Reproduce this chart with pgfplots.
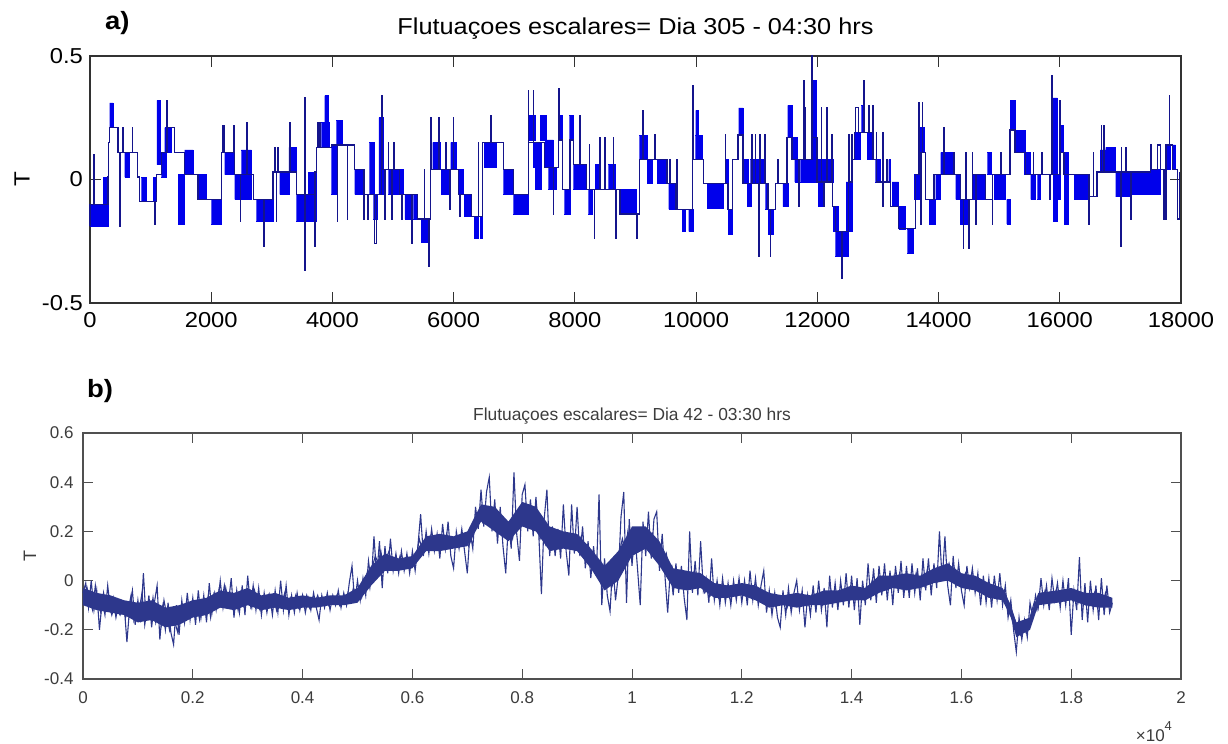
\documentclass[border=0pt]{standalone}
\usepackage{pgfplots}
\pgfplotsset{compat=1.18}
\usepackage{fontspec}
\setmainfont{Liberation Sans}
\newfontfamily\fa[FakeStretch=1.1]{Liberation Sans}
\definecolor{mblue}{RGB}{0,0,235}
\definecolor{mline}{RGB}{20,20,140}
\definecolor{bline}{RGB}{45,55,140}
\definecolor{framea}{RGB}{50,50,50}
\definecolor{frameb}{RGB}{80,80,80}
\definecolor{textb}{RGB}{60,60,60}
\begin{document}
\begin{tikzpicture}
\path[use as bounding box] (0pt,0pt) rectangle (614pt,-372pt);
% ---------------- panel a ----------------
\begin{axis}[
  at={(45pt,-151.5pt)}, anchor=south west, scale only axis,
  width=545.5pt, height=123.5pt,
  xmin=0, xmax=18000, ymin=-0.5, ymax=0.5,
  scaled ticks=false,
  xtick={0,2000,...,18000},
  xticklabels={0,2000,4000,6000,8000,10000,12000,14000,16000,18000},
  ytick={-0.5,0,0.5}, yticklabels={-0.5,0,0.5},
  tick align=inside, major tick length=5.3pt,
  axis line style={framea, line width=0.75pt},
  tick style={framea, line width=0.6pt},
  ticklabel style={font=\fa\fontsize{10.8}{13}\selectfont},
  xticklabel style={yshift=-1.4pt},
  title={Flutuaçoes escalares= Dia 305 - 04:30 hrs},
  title style={font=\fa\fontsize{11.5}{14}\selectfont, at={(0.5,1)}, anchor=base, yshift=4.8pt},
  ylabel={T},
  ylabel style={font=\fa\fontsize{11}{13}\selectfont, at={(axis description cs:-0.0623,0.5)}, anchor=center},
  clip=false,
]
\addplot[fill=mblue, draw=mblue, line width=0.3pt, unbounded coords=jump] coordinates {
(0,-0.19)(297,-0.19)(297,-0.1)(0,-0.1)(0,nan)
(215,-0.19)(297,-0.19)(297,0.01)(215,0.01)(215,nan)
(325,0.21)(380,0.21)(380,0.31)(325,0.31)(325,nan)
(572,0.01)(655,0.01)(655,0.11)(572,0.11)(572,nan)
(847,-0.09)(930,-0.09)(930,0.01)(847,0.01)(847,nan)
(1040,-0.09)(1095,-0.09)(1095,0.01)(1040,0.01)(1040,nan)
(1105,0.06)(1165,0.06)(1165,0.32)(1105,0.32)(1105,nan)
(1177,0.01)(1260,0.01)(1260,0.11)(1177,0.11)(1177,nan)
(1232,0.11)(1342,0.11)(1342,0.21)(1232,0.21)(1232,nan)
(1452,-0.18)(1562,-0.18)(1562,0.02)(1452,0.02)(1452,nan)
(1562,0.02)(1700,0.02)(1700,0.12)(1562,0.12)(1562,nan)
(1782,-0.08)(1920,-0.08)(1920,0.02)(1782,0.02)(1782,nan)
(2002,-0.18)(2167,-0.18)(2167,-0.08)(2002,-0.08)(2002,nan)
(2222,0.02)(2387,0.02)(2387,0.11)(2222,0.11)(2222,nan)
(2387,-0.08)(2497,-0.08)(2497,0.02)(2387,0.02)(2387,nan)
(2497,-0.08)(2662,-0.08)(2662,0.12)(2497,0.12)(2497,nan)
(2745,-0.17)(2855,-0.17)(2855,-0.08)(2745,-0.08)(2745,nan)
(2877,-0.17)(3020,-0.17)(3020,-0.08)(2877,-0.08)(2877,nan)
(3130,-0.06)(3283,-0.06)(3283,0.03)(3130,0.03)(3130,nan)
(3283,0.03)(3405,0.03)(3405,0.13)(3283,0.13)(3283,nan)
(3405,-0.17)(3597,-0.17)(3597,-0.06)(3405,-0.06)(3405,nan)
(3597,-0.17)(3735,-0.17)(3735,0.03)(3597,0.03)(3597,nan)
(3817,0.13)(3955,0.13)(3955,0.23)(3817,0.23)(3817,nan)
(3872,0.23)(3938,0.23)(3938,0.34)(3872,0.34)(3872,nan)
(3982,-0.06)(4065,-0.06)(4065,0.14)(3982,0.14)(3982,nan)
(4065,0.14)(4158,0.14)(4158,0.24)(4065,0.24)(4065,nan)
(4367,-0.06)(4510,-0.06)(4510,0.04)(4367,0.04)(4367,nan)
(4610,-0.06)(4687,-0.06)(4687,0.15)(4610,0.15)(4610,nan)
(4675,-0.16)(4741,-0.16)(4741,-0.06)(4675,-0.06)(4675,nan)
(4768,-0.06)(4840,-0.06)(4840,0.25)(4768,0.25)(4768,nan)
(4923,-0.06)(4960,-0.06)(4960,0.04)(4923,0.04)(4923,nan)
(4978,-0.06)(5060,-0.06)(5060,0.04)(4978,0.04)(4978,nan)
(5049,-0.06)(5170,-0.06)(5170,0.04)(5049,0.04)(5049,nan)
(5197,-0.16)(5280,-0.16)(5280,-0.06)(5197,-0.06)(5197,nan)
(5335,-0.16)(5400,-0.16)(5400,-0.06)(5335,-0.06)(5335,nan)
(5462,-0.255)(5582,-0.255)(5582,-0.16)(5462,-0.16)(5462,nan)
(5654,0.04)(5775,0.04)(5775,0.15)(5654,0.15)(5654,nan)
(5792,-0.06)(5930,-0.06)(5930,0.04)(5792,0.04)(5792,nan)
(5951,0.04)(6050,0.04)(6050,0.15)(5951,0.15)(5951,nan)
(6078,-0.06)(6160,-0.06)(6160,0.04)(6078,0.04)(6078,nan)
(6171,-0.15)(6297,-0.15)(6297,-0.06)(6171,-0.06)(6171,nan)
(6336,-0.24)(6413,-0.24)(6413,-0.15)(6336,-0.15)(6336,nan)
(6435,-0.24)(6479,-0.24)(6479,-0.15)(6435,-0.15)(6435,nan)
(6501,0.05)(6699,0.05)(6699,0.15)(6501,0.15)(6501,nan)
(6820,-0.06)(6985,-0.06)(6985,0.04)(6820,0.04)(6820,nan)
(6985,-0.14)(7232,-0.14)(7232,-0.06)(6985,-0.06)(6985,nan)
(7243,0.16)(7353,0.16)(7353,0.26)(7243,0.26)(7243,nan)
(7310,0.05)(7425,0.05)(7425,0.15)(7310,0.15)(7310,nan)
(7342,-0.04)(7452,-0.04)(7452,0.15)(7342,0.15)(7342,nan)
(7425,0.16)(7535,0.16)(7535,0.26)(7425,0.26)(7425,nan)
(7507,0.05)(7645,0.05)(7645,0.16)(7507,0.16)(7507,nan)
(7562,-0.04)(7700,-0.04)(7700,0.05)(7562,0.05)(7562,nan)
(7727,0.16)(7793,0.16)(7793,0.26)(7727,0.26)(7727,nan)
(7826,-0.14)(7920,-0.14)(7920,-0.04)(7826,-0.04)(7826,nan)
(7909,0.16)(7975,0.16)(7975,0.26)(7909,0.26)(7909,nan)
(7975,-0.04)(8195,-0.04)(8195,0.06)(7975,0.06)(7975,nan)
(8222,-0.14)(8288,-0.14)(8288,-0.04)(8222,-0.04)(8222,nan)
(8333,-0.04)(8415,-0.04)(8415,0.06)(8333,0.06)(8333,nan)
(8552,-0.04)(8662,-0.04)(8662,0.06)(8552,0.06)(8552,nan)
(8745,-0.14)(9020,-0.14)(9020,-0.04)(8745,-0.04)(8745,nan)
(9064,0.08)(9190,0.08)(9190,0.18)(9064,0.18)(9064,nan)
(9190,-0.015)(9273,-0.015)(9273,0.08)(9190,0.08)(9190,nan)
(9355,-0.015)(9520,-0.015)(9520,0.08)(9355,0.08)(9355,nan)
(9548,-0.12)(9658,-0.12)(9658,-0.015)(9548,-0.015)(9548,nan)
(9768,-0.21)(9823,-0.21)(9823,-0.12)(9768,-0.12)(9768,nan)
(9878,-0.21)(9960,-0.21)(9960,-0.12)(9878,-0.12)(9878,nan)
(9988,0.08)(10098,0.08)(10098,0.18)(9988,0.18)(9988,nan)
(9993,0.18)(10043,0.18)(10043,0.28)(9993,0.28)(9993,nan)
(10180,-0.117)(10455,-0.117)(10455,-0.015)(10180,-0.015)(10180,nan)
(10494,-0.015)(10538,-0.015)(10538,0.08)(10494,0.08)(10494,nan)
(10527,-0.22)(10604,-0.22)(10604,-0.12)(10527,-0.12)(10527,nan)
(10703,0.18)(10775,0.18)(10775,0.29)(10703,0.29)(10703,nan)
(10775,-0.015)(10868,-0.015)(10868,0.08)(10775,0.08)(10775,nan)
(10840,-0.11)(10912,-0.11)(10912,-0.015)(10840,-0.015)(10840,nan)
(10896,-0.015)(11060,-0.015)(11060,0.08)(10896,0.08)(10896,nan)
(11060,-0.015)(11143,-0.015)(11143,0.08)(11060,0.08)(11060,nan)
(11143,-0.12)(11198,-0.12)(11198,-0.015)(11143,-0.015)(11143,nan)
(11187,-0.22)(11280,-0.22)(11280,-0.12)(11187,-0.12)(11187,nan)
(11430,-0.11)(11517,-0.11)(11517,-0.015)(11430,-0.015)(11430,nan)
(11511,0.17)(11583,0.17)(11583,0.3)(11511,0.3)(11511,nan)
(11583,0.08)(11665,0.08)(11665,0.17)(11583,0.17)(11583,nan)
(11627,-0.01)(11710,-0.01)(11710,0.08)(11627,0.08)(11627,nan)
(11720,-0.01)(11913,-0.01)(11913,0.08)(11720,0.08)(11720,nan)
(11913,0.17)(11980,0.17)(11980,0.4)(11913,0.4)(11913,nan)
(11913,-0.01)(11995,-0.01)(11995,0.17)(11913,0.17)(11913,nan)
(12012,-0.11)(12105,-0.11)(12105,0.08)(12012,0.08)(12012,nan)
(12105,-0.01)(12270,-0.01)(12270,0.08)(12105,0.08)(12105,nan)
(12260,-0.21)(12353,-0.21)(12353,-0.11)(12260,-0.11)(12260,nan)
(12298,-0.31)(12518,-0.31)(12518,-0.21)(12298,-0.21)(12298,nan)
(12474,-0.21)(12573,-0.21)(12573,-0.01)(12474,-0.01)(12474,nan)
(12617,0.08)(12710,0.08)(12710,0.19)(12617,0.19)(12617,nan)
(12727,0.19)(12782,0.19)(12782,0.3)(12727,0.3)(12727,nan)
(12820,0.08)(12930,0.08)(12930,0.19)(12820,0.19)(12820,nan)
(12958,-0.01)(13040,-0.01)(13040,0.08)(12958,0.08)(12958,nan)
(13178,-0.01)(13206,-0.01)(13206,0.08)(13178,0.08)(13178,nan)
(13233,-0.11)(13343,-0.11)(13343,-0.01)(13233,-0.01)(13233,nan)
(13343,-0.2)(13453,-0.2)(13453,-0.11)(13343,-0.11)(13343,nan)
(13486,-0.3)(13585,-0.3)(13585,-0.2)(13486,-0.2)(13486,nan)
(13596,-0.08)(13678,-0.08)(13678,0.02)(13596,0.02)(13596,nan)
(13662,0.11)(13761,0.11)(13761,0.21)(13662,0.21)(13662,nan)
(13843,-0.18)(13953,-0.18)(13953,-0.08)(13843,-0.08)(13843,nan)
(13953,-0.08)(14036,-0.08)(14036,0.02)(13953,0.02)(13953,nan)
(14036,0.02)(14146,0.02)(14146,0.11)(14036,0.11)(14036,nan)
(14146,0.02)(14256,0.02)(14256,0.11)(14146,0.11)(14146,nan)
(14283,-0.08)(14366,-0.08)(14366,0.02)(14283,0.02)(14283,nan)
(14355,-0.18)(14476,-0.18)(14476,-0.08)(14355,-0.08)(14355,nan)
(14558,-0.08)(14778,-0.08)(14778,0.02)(14558,0.02)(14558,nan)
(14806,0.02)(14872,0.02)(14872,0.11)(14806,0.11)(14806,nan)
(14916,-0.08)(15108,-0.08)(15108,0.02)(14916,0.02)(14916,nan)
(15125,-0.18)(15180,-0.18)(15180,-0.08)(15125,-0.08)(15125,nan)
(15180,0.2)(15262,0.2)(15262,0.32)(15180,0.32)(15180,nan)
(15273,0.11)(15438,0.11)(15438,0.2)(15273,0.2)(15273,nan)
(15411,0.02)(15521,0.02)(15521,0.11)(15411,0.11)(15411,nan)
(15521,-0.08)(15603,-0.08)(15603,0.02)(15521,0.02)(15521,nan)
(15631,-0.08)(15686,-0.08)(15686,0.02)(15631,0.02)(15631,nan)
(15890,-0.17)(15961,-0.17)(15961,0.33)(15890,0.33)(15890,nan)
(15961,-0.08)(16016,-0.08)(16016,0.02)(15961,0.02)(15961,nan)
(16005,0.11)(16060,0.11)(16060,0.22)(16005,0.22)(16005,nan)
(16071,-0.18)(16137,-0.18)(16137,0.11)(16071,0.11)(16071,nan)
(16236,-0.08)(16456,-0.08)(16456,0.02)(16236,0.02)(16236,nan)
(16665,0.03)(16758,0.03)(16758,0.12)(16665,0.12)(16665,nan)
(16758,0.03)(16923,0.03)(16923,0.13)(16758,0.13)(16758,nan)
(16923,-0.07)(17033,-0.07)(17033,0.03)(16923,0.03)(16923,nan)
(17033,-0.07)(17171,-0.07)(17171,0.03)(17033,0.03)(17033,nan)
(17177,-0.06)(17501,-0.06)(17501,0.03)(17177,0.03)(17177,nan)
(17501,-0.06)(17666,-0.06)(17666,0.04)(17501,0.04)(17501,nan)
(17748,0.04)(17831,0.04)(17831,0.14)(17748,0.14)(17748,nan)
(17858,0.04)(17913,0.04)(17913,0.14)(17858,0.14)
};
\addplot[mline, line width=0.6pt] coordinates {
(0,-0.19)(0,-0.1)(66,-0.1)(66,0.1)(72,0.1)(72,-0.1)(297,-0.1)(297,0.01)(310,0.01)(310,0.15)(325,0.15)(325,0.21)
(462,0.21)(462,0.11)(490,0.11)(490,-0.19)(496,-0.19)(496,0.11)(545,0.11)(545,0.21)(551,0.21)(551,0.11)
(700,0.11)(700,0.21)(706,0.21)(706,0.11)(790,0.11)(790,0.01)(820,0.01)(820,-0.09)(1067,-0.09)(1067,-0.18)
(1072,-0.18)(1072,-0.09)(1095,-0.09)(1095,0.02)(1177,0.02)(1177,0.11)(1270,0.11)(1270,0.32)(1275,0.32)(1275,0.21)
(1397,0.21)(1397,0.11)(1562,0.11)(1562,0.02)(1782,0.02)(1782,-0.08)(2167,-0.08)(2167,0.11)(2195,0.11)(2195,0.22)
(2222,0.22)(2222,0.11)(2376,0.11)(2376,0.22)(2382,0.22)(2382,0.02)(2480,0.02)(2480,-0.17)(2486,-0.17)(2486,0.02)
(2585,0.02)(2585,0.23)(2591,0.23)(2591,0.02)(2700,0.02)(2700,-0.08)(2871,-0.08)(2871,-0.27)(2877,-0.27)(2877,-0.08)
(3020,-0.08)(3020,0.03)(3047,0.03)(3047,0.13)(3053,0.13)(3053,0.03)(3074,0.03)(3074,-0.17)(3080,-0.17)(3080,0.03)
(3102,0.03)(3102,0.13)(3108,0.13)(3108,0.03)(3295,0.03)(3295,0.23)(3301,0.23)(3301,0.03)(3405,0.03)(3405,-0.06)
(3542,-0.06)(3542,-0.37)(3548,-0.37)(3548,0.33)(3554,0.33)(3554,-0.06)(3707,-0.06)(3707,-0.27)(3713,-0.27)(3713,0.03)
(3735,0.03)(3735,0.13)(3762,0.13)(3762,0.23)(3768,0.23)(3768,0.13)(3790,0.13)(3790,0.23)(3796,0.23)(3796,0.13)
(3982,0.13)(3982,0.14)(4081,0.14)(4081,-0.17)(4087,-0.17)(4087,0.14)(4246,0.14)(4246,-0.16)(4252,-0.16)(4252,0.14)
(4367,0.14)(4367,0.04)(4521,0.04)(4521,-0.16)(4527,-0.16)(4527,-0.06)(4580,-0.06)(4580,-0.16)(4586,-0.16)(4586,-0.06)
(4700,-0.06)(4700,-0.26)(4725,-0.26)(4725,-0.06)(4812,-0.06)(4812,0.34)(4818,0.34)(4818,0.04)(4868,0.04)(4868,-0.16)
(4874,-0.16)(4874,0.04)(4923,0.04)(4923,0.15)(4929,0.15)(4929,0.04)(4978,0.04)(4978,-0.16)(4984,-0.16)(4984,0.04)
(5016,0.04)(5016,0.15)(5022,0.15)(5022,0.04)(5100,0.04)(5100,-0.06)(5142,-0.06)(5142,-0.16)(5148,-0.16)(5148,-0.06)
(5307,-0.06)(5307,-0.26)(5313,-0.26)(5313,-0.06)(5400,-0.06)(5400,-0.16)(5516,-0.16)(5516,0.04)(5522,0.04)(5522,-0.16)
(5593,-0.16)(5593,-0.35)(5599,-0.35)(5599,-0.16)(5621,-0.16)(5621,0.25)(5627,0.25)(5627,0.04)(5758,0.04)(5758,0.25)
(5764,0.25)(5764,0.04)(5875,0.04)(5875,0.15)(5881,0.15)(5881,0.04)(5940,0.04)(5940,-0.12)(5946,-0.12)(5946,0.04)
(5995,0.04)(5995,0.25)(6001,0.25)(6001,0.04)(6078,0.04)(6078,-0.06)(6105,-0.06)(6105,-0.15)(6111,-0.15)(6111,-0.06)
(6297,-0.06)(6297,-0.15)(6408,-0.15)(6408,0.15)(6414,0.15)(6414,-0.15)(6480,-0.15)(6480,0.15)(6617,0.15)(6617,0.26)
(6623,0.26)(6623,0.15)(6820,0.15)(6820,0.04)(6985,0.04)(6985,-0.06)(7232,-0.06)(7232,0.36)(7238,0.36)(7238,0.15)
(7315,0.15)(7315,0.36)(7321,0.36)(7321,0.15)(7500,0.15)(7500,0.05)(7645,0.05)(7645,-0.14)(7651,-0.14)(7651,0.05)
(7727,0.05)(7727,0.16)(7738,0.16)(7738,0.37)(7744,0.37)(7744,0.16)(7800,0.16)(7800,-0.04)(7920,-0.04)(7920,0.16)
(7975,0.16)(7975,0.06)(8085,0.06)(8085,0.26)(8091,0.26)(8091,0.06)(8195,0.06)(8195,-0.04)(8239,-0.04)(8239,0.14)
(8245,0.14)(8245,-0.04)(8321,-0.04)(8321,-0.24)(8327,-0.24)(8327,-0.04)(8415,-0.04)(8415,0.17)(8421,0.17)(8421,-0.04)
(8497,-0.04)(8497,0.17)(8503,0.17)(8503,-0.04)(8635,-0.04)(8635,0.17)(8641,0.17)(8641,-0.04)(8679,-0.04)(8679,-0.24)
(8685,-0.24)(8685,-0.04)(8745,-0.04)(8745,-0.14)(9020,-0.14)(9020,-0.24)(9026,-0.24)(9026,-0.14)(9064,-0.14)(9064,0.08)
(9119,0.08)(9119,0.28)(9125,0.28)(9125,0.08)(9317,0.08)(9317,0.18)(9323,0.18)(9323,0.08)(9520,0.08)(9520,-0.015)
(9565,-0.015)(9565,0.08)(9571,0.08)(9571,-0.015)(9658,-0.015)(9658,-0.12)(9685,-0.12)(9685,0.08)(9691,0.08)(9691,-0.12)
(9944,-0.12)(9944,0.38)(9950,0.38)(9950,0.08)(10125,0.08)(10125,-0.015)(10483,-0.015)(10483,0.18)(10489,0.18)(10489,-0.015)
(10527,-0.015)(10527,-0.12)(10604,-0.12)(10604,0.08)(10692,0.08)(10692,0.18)(10775,0.18)(10775,-0.015)(10923,-0.015)(10923,0.18)
(10929,0.18)(10929,-0.015)(10978,-0.015)(10978,0.18)(10984,0.18)(10984,-0.015)(11033,-0.015)(11033,-0.31)(11039,-0.31)(11039,-0.015)
(11050,-0.015)(11050,0.18)(11056,0.18)(11056,-0.015)(11132,-0.015)(11132,0.18)(11138,0.18)(11138,-0.015)(11187,-0.015)(11187,-0.12)
(11225,-0.12)(11225,-0.31)(11231,-0.31)(11231,-0.12)(11308,-0.12)(11308,-0.015)(11346,-0.015)(11346,0.08)(11352,0.08)(11352,-0.015)
(11500,-0.015)(11500,0.17)(11583,0.17)(11583,0.08)(11693,0.08)(11693,-0.11)(11699,-0.11)(11699,0.08)(11776,0.08)(11776,0.4)
(11782,0.4)(11782,0.08)(11790,0.08)(11790,0.29)(11796,0.29)(11796,0.08)(11913,0.08)(11913,0.5)(11919,0.5)(11919,0.17)
(11995,0.17)(11995,-0.01)(12067,-0.01)(12067,0.29)(12073,0.29)(12073,-0.01)(12105,-0.01)(12105,-0.11)(12111,-0.11)(12111,-0.01)
(12160,-0.01)(12160,0.29)(12166,0.29)(12166,-0.01)(12243,-0.01)(12243,0.18)(12249,0.18)(12249,-0.11)(12298,-0.11)(12298,-0.21)
(12408,-0.21)(12408,-0.4)(12414,-0.4)(12414,-0.21)(12518,-0.21)(12518,0.18)(12524,0.18)(12524,-0.01)(12573,-0.01)(12573,0.18)
(12579,0.18)(12579,0.08)(12617,0.08)(12617,0.19)(12628,0.19)(12628,0.29)(12683,0.29)(12683,0.19)(12765,0.19)(12765,0.4)
(12771,0.4)(12771,0.19)(12848,0.19)(12848,0.3)(12854,0.3)(12854,0.19)(12914,0.19)(12914,0.3)(12920,0.3)(12920,0.08)
(12975,0.08)(12975,0.19)(12981,0.19)(12981,-0.01)(13079,-0.01)(13079,-0.11)(13085,-0.11)(13085,0.19)(13091,0.19)(13091,-0.01)
(13150,-0.01)(13150,0.08)(13156,0.08)(13156,-0.01)(13206,-0.01)(13206,-0.11)(13343,-0.11)(13343,-0.2)(13613,-0.2)(13613,0.02)
(13678,0.02)(13678,0.31)(13684,0.31)(13684,0.11)(13706,0.11)(13706,-0.18)(13712,-0.18)(13712,0.11)(13733,0.11)(13733,0.31)
(13739,0.31)(13739,0.11)(13788,0.11)(13788,-0.08)(13926,-0.08)(13926,0.02)(14091,0.02)(14091,0.21)(14097,0.21)(14097,0.02)
(14256,0.02)(14256,0.11)(14262,0.11)(14262,0.02)(14366,0.02)(14366,-0.08)(14410,-0.08)(14410,-0.28)(14416,-0.28)(14416,-0.08)
(14448,-0.08)(14448,0.11)(14454,0.11)(14454,-0.08)(14503,-0.08)(14503,-0.28)(14509,-0.28)(14509,-0.08)(14558,-0.08)(14558,0.11)
(14564,0.11)(14564,0.02)(14613,0.02)(14613,-0.18)(14619,-0.18)(14619,0.02)(14778,0.02)(14778,-0.08)(14888,-0.08)(14888,-0.18)
(14894,-0.18)(14894,0.02)(15026,0.02)(15026,0.11)(15032,0.11)(15032,0.02)(15180,0.02)(15180,0.2)(15262,0.2)(15262,0.11)
(15438,0.11)(15438,0.02)(15565,0.02)(15565,0.11)(15571,0.11)(15571,0.02)(15703,0.02)(15703,0.11)(15709,0.11)(15709,0.02)
(15835,0.02)(15835,-0.08)(15841,-0.08)(15841,0.02)(15868,0.02)(15868,0.42)(15874,0.42)(15874,0.02)(16005,0.02)(16005,0.32)
(16011,0.32)(16011,0.11)(16071,0.11)(16071,0.02)(16483,0.02)(16483,-0.18)(16489,-0.18)(16489,-0.07)(16550,-0.07)(16550,0.11)
(16556,0.11)(16556,-0.07)(16615,-0.07)(16615,0.03)(16687,0.03)(16687,0.22)(16693,0.22)(16693,0.03)(16731,0.03)(16731,0.22)
(16737,0.22)(16737,0.03)(17006,0.03)(17006,-0.27)(17012,-0.27)(17012,0.03)(17017,0.03)(17017,0.13)(17023,0.13)(17023,0.03)
(17090,0.03)(17090,0.13)(17096,0.13)(17096,0.03)(17171,0.03)(17171,-0.16)(17177,-0.16)(17177,0.03)(17501,0.03)(17501,0.14)
(17507,0.14)(17507,0.04)(17611,0.04)(17611,0.14)(17666,0.14)(17666,0.04)(17721,0.04)(17721,-0.16)(17727,-0.16)(17727,0.04)
(17748,0.04)(17748,-0.16)(17754,-0.16)(17754,0.14)(17804,0.14)(17804,0.34)(17810,0.34)(17810,0.14)(17858,0.14)(17858,0.04)
(17941,0.04)(17941,-0.16)(17970,-0.16)(17970,0.03)
};
\end{axis}
% ---------------- panel b ----------------
\begin{axis}[
  at={(41.5pt,-339.5pt)}, anchor=south west, scale only axis,
  width=549pt, height=123pt,
  xmin=0, xmax=20000, ymin=-0.4, ymax=0.6,
  scaled ticks=false,
  xtick={0,2000,...,20000},
  xticklabels={0,0.2,0.4,0.6,0.8,1,1.2,1.4,1.6,1.8,2},
  ytick={-0.4,-0.2,0,0.2,0.4,0.6}, yticklabels={-0.4,-0.2,0,0.2,0.4,0.6},
  tick align=inside, major tick length=5pt,
  axis line style={frameb, line width=0.6pt},
  tick style={frameb, line width=0.5pt},
  ticklabel style={font=\fontsize{8.5}{10}\selectfont, text=textb},
  xticklabel style={yshift=-2.7pt},
  yticklabel style={xshift=-1.2pt},
  title={Flutuaçoes escalares= Dia 42 - 03:30 hrs},
  title style={font=\fontsize{8.7}{10}\selectfont, text=textb, at={(0.5,1)}, anchor=base, yshift=0.1pt},
  ylabel={T},
  ylabel style={font=\fontsize{9}{10}\selectfont, text=textb, at={(axis description cs:-0.0483,0.5)}, anchor=center},
  clip=false,
]
\addplot[fill=bline, draw=none] coordinates {
(0,-0.03)(250,-0.05)(500,-0.06)(750,-0.08)(1000,-0.09)(1250,-0.08)(1500,-0.11)(1750,-0.1)(2000,-0.08)(2250,-0.07)
(2500,-0.04)(2750,-0.05)(3000,-0.03)(3250,-0.06)(3500,-0.05)(3750,-0.07)(4000,-0.06)(4250,-0.07)(4500,-0.06)(4750,-0.06)
(5000,-0.03)(5250,0.06)(5500,0.11)(5750,0.09)(6000,0.1)(6250,0.18)(6500,0.19)(6750,0.18)(7000,0.2)(7250,0.31)
(7500,0.3)(7750,0.24)(8000,0.32)(8250,0.3)(8500,0.22)(8750,0.2)(9000,0.19)(9250,0.13)(9500,0.06)(9750,0.12)
(10000,0.22)(10250,0.22)(10500,0.16)(10750,0.05)(11000,0.04)(11250,0.03)(11500,-0.01)(11750,-0.02)(12000,-0.01)(12250,-0.02)
(12500,-0.05)(12750,-0.06)(13000,-0.05)(13250,-0.06)(13500,-0.04)(13750,-0.04)(14000,-0.02)(14250,-0.03)(14500,0.02)(14750,0.02)
(15000,0.03)(15250,0.02)(15500,0.05)(15750,0.07)(16000,0.03)(16250,0.02)(16500,-0.01)(16750,-0.03)(16900,-0.1)(17000,-0.17)
(17250,-0.15)(17400,-0.05)(17750,-0.04)(18000,-0.03)(18250,-0.05)(18500,-0.05)(18750,-0.07)
(18750,-0.11)(18500,-0.11)(18250,-0.1)(18000,-0.08)(17750,-0.09)(17400,-0.1)(17250,-0.2)(17000,-0.23)(16900,-0.15)(16750,-0.08)
(16500,-0.07)(16250,-0.04)(16000,-0.03)(15750,0.0)(15500,-0.01)(15250,-0.03)(15000,-0.04)(14750,-0.03)(14500,-0.05)(14250,-0.08)
(14000,-0.08)(13750,-0.09)(13500,-0.1)(13250,-0.1)(13000,-0.11)(12750,-0.1)(12500,-0.11)(12250,-0.08)(12000,-0.06)(11750,-0.07)
(11500,-0.07)(11250,-0.03)(11000,-0.04)(10750,-0.03)(10500,0.06)(10250,0.13)(10000,0.1)(9750,0.0)(9500,-0.04)(9250,0.05)
(9000,0.12)(8750,0.13)(8500,0.12)(8250,0.2)(8000,0.22)(7750,0.16)(7500,0.2)(7250,0.24)(7000,0.14)(6750,0.13)
(6500,0.12)(6250,0.12)(6000,0.05)(5750,0.04)(5500,0.04)(5250,-0.02)(5000,-0.09)(4750,-0.1)(4500,-0.1)(4250,-0.11)
(4000,-0.11)(3750,-0.12)(3500,-0.11)(3250,-0.12)(3000,-0.1)(2750,-0.12)(2500,-0.11)(2250,-0.14)(2000,-0.15)(1750,-0.18)
(1500,-0.19)(1250,-0.16)(1000,-0.17)(750,-0.14)(500,-0.13)(250,-0.12)(0,-0.1)
};
\addplot[bline, line width=0.55pt] table[x expr=25+\coordindex*50, y index=0, header=false, row sep=\\] {
-0.1\\-0.03\\-0.08\\-0.12\\-0.02\\-0.1\\-0.13\\-0.05\\-0.12\\-0.09\\-0.14\\-0.1\\-0.12\\-0.14\\-0.1\\-0.15\\-0.12\\-0.06\\-0.16\\-0.1\\
-0.12\\-0.05\\-0.18\\-0.1\\-0.15\\-0.07\\-0.17\\-0.12\\-0.18\\-0.08\\-0.14\\-0.2\\-0.13\\-0.17\\-0.21\\-0.12\\-0.16\\-0.1\\-0.14\\-0.09\\
-0.14\\-0.1\\-0.16\\-0.09\\-0.13\\-0.07\\-0.15\\-0.06\\-0.12\\-0.04\\-0.09\\-0.02\\-0.1\\-0.05\\-0.11\\-0.06\\-0.12\\-0.05\\-0.1\\-0.04\\
-0.06\\-0.11\\-0.04\\-0.09\\-0.12\\-0.07\\-0.11\\-0.06\\-0.1\\-0.07\\-0.12\\-0.06\\-0.09\\-0.05\\-0.11\\-0.07\\-0.1\\-0.06\\-0.11\\-0.08\\
-0.1\\-0.06\\-0.11\\-0.07\\-0.09\\-0.06\\-0.1\\-0.08\\-0.07\\-0.1\\-0.07\\-0.09\\-0.06\\-0.1\\-0.07\\-0.09\\-0.05\\-0.08\\-0.03\\-0.06\\
-0.04\\-0.07\\-0.02\\0.03\\-0.03\\0.06\\0.1\\0.07\\0.12\\0.05\\0.09\\0.12\\0.06\\0.09\\0.06\\0.1\\0.07\\0.09\\0.06\\0.09\\
0.07\\0.1\\0.17\\0.13\\0.16\\0.14\\0.18\\0.14\\0.16\\0.13\\0.18\\0.15\\0.19\\0.14\\0.17\\0.15\\0.18\\0.15\\0.17\\0.16\\
0.14\\0.17\\0.2\\0.26\\0.28\\0.24\\0.3\\0.26\\0.29\\0.25\\0.2\\0.26\\0.19\\0.23\\0.18\\0.2\\0.17\\0.24\\0.27\\0.22\\
0.25\\0.3\\0.23\\0.29\\0.25\\0.28\\0.17\\0.2\\0.15\\0.22\\0.14\\0.18\\0.15\\0.19\\0.14\\0.18\\0.15\\0.19\\0.14\\0.18\\
0.15\\0.18\\0.12\\0.1\\0.13\\0.08\\0.1\\0.06\\0.08\\0.02\\-0.02\\0.04\\-0.03\\0.0\\0.05\\0.12\\0.17\\0.12\\0.2\\0.15\\
0.18\\0.13\\0.17\\0.2\\0.15\\0.2\\0.16\\0.19\\0.13\\0.1\\0.14\\0.08\\0.11\\0.04\\0.06\\0.01\\0.03\\-0.02\\0.02\\0.0\\
0.02\\-0.02\\0.03\\-0.01\\0.02\\-0.02\\-0.05\\-0.03\\-0.06\\-0.02\\-0.05\\-0.07\\-0.03\\-0.06\\-0.04\\-0.07\\-0.03\\-0.06\\-0.04\\-0.05\\
-0.06\\-0.03\\-0.05\\-0.07\\-0.03\\-0.06\\-0.04\\-0.07\\-0.09\\-0.07\\-0.1\\-0.08\\-0.11\\-0.07\\-0.1\\-0.08\\-0.11\\-0.07\\-0.09\\-0.08\\
-0.09\\-0.06\\-0.1\\-0.07\\-0.1\\-0.06\\-0.09\\-0.05\\-0.08\\-0.1\\-0.06\\-0.09\\-0.04\\-0.07\\-0.05\\-0.08\\-0.04\\-0.07\\-0.05\\-0.06\\
-0.06\\-0.03\\-0.07\\-0.04\\-0.06\\-0.02\\-0.04\\0.0\\-0.03\\0.01\\-0.02\\0.02\\-0.01\\0.01\\-0.03\\0.02\\-0.02\\0.03\\-0.01\\0.02\\
-0.01\\0.02\\-0.02\\0.03\\-0.01\\0.02\\-0.02\\0.04\\0.0\\0.03\\0.0\\0.05\\0.02\\0.06\\0.03\\0.07\\0.02\\0.05\\0.01\\0.03\\
0.0\\0.03\\-0.01\\0.02\\-0.02\\0.0\\-0.04\\-0.02\\-0.05\\-0.03\\-0.06\\-0.02\\-0.05\\-0.03\\-0.06\\-0.04\\-0.07\\-0.1\\-0.13\\-0.16\\
-0.19\\-0.22\\-0.18\\-0.21\\-0.17\\-0.13\\-0.09\\-0.12\\-0.05\\-0.08\\-0.04\\-0.07\\-0.05\\-0.08\\-0.04\\-0.07\\-0.05\\-0.08\\-0.04\\-0.06\\
-0.08\\-0.05\\-0.09\\-0.05\\-0.08\\-0.1\\-0.06\\-0.09\\-0.05\\-0.1\\-0.06\\-0.09\\-0.05\\-0.1\\-0.07\\
};
\addplot[bline, line width=0.55pt] table[x expr=\coordindex*50, y index=0, header=false, row sep=\\] {
-0.05\\-0.01\\-0.11\\0.0\\-0.12\\-0.04\\-0.2\\-0.08\\-0.14\\-0.02\\-0.12\\-0.07\\-0.15\\-0.09\\-0.13\\-0.1\\-0.25\\-0.11\\-0.04\\-0.18\\
-0.08\\-0.17\\0.03\\-0.16\\-0.06\\-0.19\\-0.09\\-0.02\\-0.24\\-0.11\\-0.2\\-0.09\\-0.21\\-0.26\\-0.1\\-0.22\\-0.08\\-0.17\\-0.05\\-0.16\\
-0.07\\-0.18\\-0.04\\-0.15\\-0.06\\-0.17\\-0.01\\-0.13\\-0.05\\-0.1\\0.0\\-0.11\\-0.03\\-0.09\\0.01\\-0.15\\-0.04\\-0.13\\-0.02\\-0.14\\
0.02\\-0.1\\-0.02\\-0.12\\-0.03\\-0.14\\-0.05\\-0.13\\-0.06\\-0.14\\-0.04\\-0.13\\0.0\\-0.12\\-0.02\\-0.14\\-0.06\\-0.13\\-0.05\\-0.12\\
-0.06\\-0.13\\-0.07\\-0.12\\-0.05\\-0.11\\-0.16\\-0.06\\-0.11\\-0.05\\-0.12\\-0.06\\-0.1\\-0.04\\-0.11\\-0.05\\-0.1\\-0.01\\0.06\\-0.09\\
0.0\\-0.08\\0.01\\-0.06\\0.08\\-0.01\\0.18\\0.02\\0.16\\-0.03\\0.14\\0.03\\0.17\\0.04\\0.11\\0.03\\0.12\\0.04\\0.11\\0.03\\
0.12\\0.04\\0.14\\0.27\\0.1\\0.2\\0.11\\0.21\\0.12\\0.19\\0.09\\0.23\\0.13\\0.24\\0.1\\0.05\\0.2\\0.13\\0.21\\0.12\\
0.03\\0.2\\0.13\\0.3\\0.21\\0.37\\0.22\\0.36\\0.42\\0.2\\0.33\\0.15\\0.3\\0.14\\0.03\\0.24\\0.13\\0.44\\0.19\\0.08\\
0.35\\0.39\\0.2\\0.33\\0.18\\0.34\\0.2\\-0.055\\0.25\\0.37\\0.1\\0.22\\0.1\\0.21\\0.09\\0.31\\0.12\\0.02\\0.31\\0.11\\
0.3\\0.1\\0.22\\0.05\\0.16\\0.01\\0.14\\0.02\\0.35\\-0.1\\0.09\\-0.06\\-0.125\\0.07\\-0.08\\0.02\\0.26\\0.36\\-0.09\\0.25\\
0.06\\0.2\\0.05\\-0.1\\0.24\\0.1\\0.28\\0.09\\0.25\\0.28\\0.04\\0.19\\0.02\\-0.13\\0.05\\-0.06\\0.07\\-0.05\\0.06\\-0.07\\
-0.16\\0.2\\-0.05\\0.08\\-0.06\\0.16\\-0.04\\0.01\\-0.09\\0.09\\-0.08\\0.0\\-0.1\\0.01\\-0.09\\-0.01\\-0.1\\0.0\\-0.08\\0.01\\
-0.09\\0.0\\-0.1\\0.04\\-0.08\\0.01\\-0.1\\-0.02\\0.04\\-0.13\\-0.04\\-0.14\\-0.05\\-0.15\\-0.19\\-0.04\\-0.14\\-0.03\\-0.13\\-0.05\\
0.0\\-0.12\\-0.04\\-0.19\\-0.06\\-0.14\\-0.02\\-0.13\\0.0\\-0.12\\-0.03\\-0.19\\0.02\\-0.11\\-0.01\\-0.12\\0.0\\-0.1\\0.03\\-0.11\\
0.02\\-0.12\\0.01\\-0.18\\0.0\\-0.1\\0.07\\-0.08\\0.05\\-0.09\\0.06\\-0.06\\0.07\\-0.08\\0.04\\-0.1\\0.06\\-0.05\\0.08\\-0.07\\
0.06\\-0.07\\0.07\\-0.05\\0.05\\-0.08\\0.09\\-0.04\\0.09\\-0.06\\0.07\\-0.03\\0.2\\0.0\\0.18\\-0.02\\-0.1\\0.1\\-0.03\\0.07\\
-0.04\\-0.1\\0.06\\-0.03\\0.05\\-0.05\\0.03\\-0.1\\0.02\\-0.09\\0.01\\-0.11\\0.02\\-0.08\\0.03\\-0.1\\-0.02\\-0.15\\-0.08\\-0.2\\
-0.29\\-0.15\\-0.24\\-0.16\\-0.23\\-0.09\\-0.15\\-0.06\\-0.11\\0.01\\-0.1\\-0.02\\-0.12\\0.01\\-0.08\\-0.01\\-0.11\\0.0\\-0.1\\0.01\\
-0.22\\-0.04\\-0.12\\0.095\\-0.16\\-0.01\\-0.17\\0.0\\-0.12\\-0.02\\-0.16\\0.01\\-0.14\\-0.02\\-0.13\\-0.09\\
};
\node[anchor=base east, font=\fontsize{8.5}{10}\selectfont, text=textb] at (rel axis cs:1,0) [yshift=-31pt, xshift=-1pt] {×10\raisebox{1.2ex}{\fontsize{6.5}{7}\selectfont 4}};
\end{axis}
% panel labels
\node[anchor=base west, font=\fa\bfseries\fontsize{12.5}{14}\selectfont] at (49pt,-14.5pt) {a)};
\node[anchor=base west, font=\fa\bfseries\fontsize{12.5}{14}\selectfont] at (40pt,-198.5pt) {b)};
\end{tikzpicture}
\end{document}
